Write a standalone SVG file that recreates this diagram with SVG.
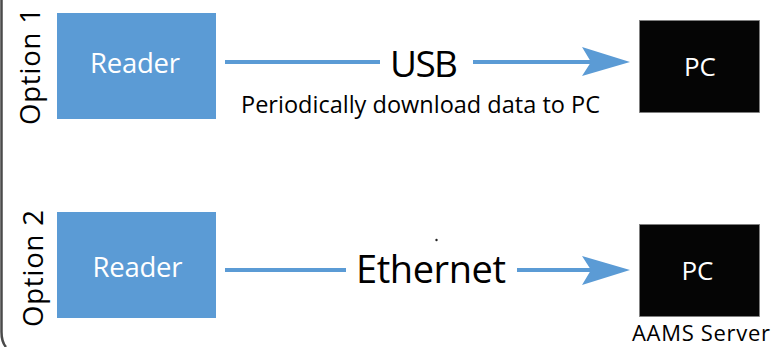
<svg xmlns="http://www.w3.org/2000/svg" width="774" height="347" viewBox="0 0 774 347">
  <style>
    .reader { fill: #5B9BD5; }
    .pc { fill: #050505; stroke: #7f7f7f; stroke-width: 0.8; }
    .box-label { font-family: "Open Sans", "Noto Sans", sans-serif; fill: #ffffff; text-anchor: middle; }
    .label { font-family: "Open Sans", "Noto Sans", sans-serif; fill: #000000; text-anchor: middle; }
    .wire { stroke: #5B9BD5; stroke-width: 4; fill: none; }
    .head { fill: #5B9BD5; }
  </style>
  <rect x="0" y="0" width="774" height="347" fill="#ffffff"/>

  <!-- left frame edge -->
  <path d="M1.5,0 V332 Q1.5,342 6,347" fill="none" stroke="#4a4a4a" stroke-width="2.5"/>

  <!-- option labels -->
  <text class="label" font-size="27.5" textLength="117" transform="translate(40,66.5) rotate(-90)">Option 1</text>
  <text class="label" font-size="27.5" textLength="117" transform="translate(43,268.5) rotate(-90)">Option 2</text>

  <!-- Option 1 -->
  <g id="reader1">
    <rect class="reader" x="57" y="13" width="159" height="106"/>
    <text class="box-label" x="135" y="73" font-size="27.5" textLength="90">Reader</text>
  </g>
  <g id="pc1">
    <rect class="pc" x="639.5" y="20.5" width="120" height="92"/>
    <text class="box-label" x="700" y="76" font-size="26" textLength="32">PC</text>
  </g>

  <!-- Option 2 -->
  <g id="reader2">
    <rect class="reader" x="57" y="212" width="159" height="106"/>
    <text class="box-label" x="137.5" y="277" font-size="27.5" textLength="90">Reader</text>
  </g>
  <g id="pc2">
    <rect class="pc" x="639.5" y="224.5" width="120" height="92"/>
    <text class="box-label" x="697.5" y="280" font-size="26" textLength="32">PC</text>
  </g>
  <text class="label" x="701" y="341" font-size="22" textLength="138">AAMS Server</text>

  <!-- connectors -->
  <g id="connectors">
    <line class="wire" x1="225" y1="62" x2="380" y2="62"/>
    <line class="wire" x1="473" y1="62" x2="592" y2="62"/>
    <path class="head" d="M630,62 L582,47 L591,62 L582,76 Z"/>
    <text class="label" x="424" y="77" font-size="37" textLength="68">USB</text>
    <text class="label" x="420.5" y="113" font-size="23.5" textLength="359">Periodically download data to PC</text>

    <line class="wire" x1="225" y1="270" x2="346" y2="270"/>
    <line class="wire" x1="517" y1="270" x2="592" y2="270"/>
    <path class="head" d="M630,270 L582,256 L591,270 L582,285 Z"/>
    <text class="label" x="431" y="283" font-size="38" textLength="150">Ethernet</text>
  </g>

  <circle cx="436.5" cy="240" r="1.2" fill="#222"/>
</svg>
